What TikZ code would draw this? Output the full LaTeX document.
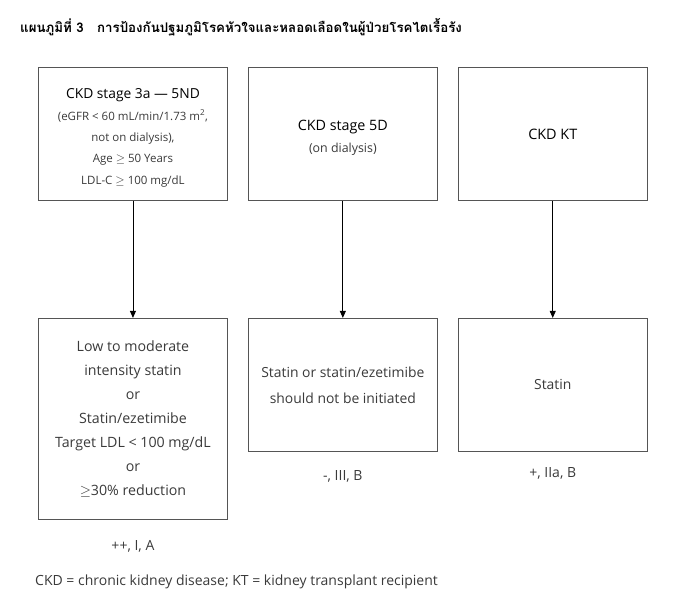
\documentclass[tikz,border=0pt]{standalone}
\usepackage{fontspec}
\setmainfont{Open Sans}
\newfontfamily\thaifont[Script=Thai]{Loma}
\usepackage{xcolor}
\usetikzlibrary{arrows.meta, positioning}
\definecolor{linegray}{HTML}{555555}
\definecolor{txtgray}{HTML}{3a3a3a}

\begin{document}
\begin{tikzpicture}[x=1pt, y=-1pt,
  box/.style={draw=linegray, line width=0.9pt, minimum width=189pt, minimum height=133pt, align=center, text=txtgray, font=\fontsize{11.5}{21.3}\selectfont},
  arr/.style={-{Triangle[length=7pt, width=6pt]}, line width=0.9pt, black},
  lbl/.style={inner sep=0pt, text=txtgray, font=\fontsize{14}{16}\selectfont}
]
\useasboundingbox (0,0) rectangle (673,603);

\node[anchor=west, inner sep=0pt, font=\thaifont\bfseries\fontsize{13.3}{16}\selectfont] (title) at (20,27) {แผนภูมิที่ 3\quad การป้องกันปฐมภูมิโรคหัวใจและหลอดเลือดในผู้ป่วยโรคไตเรื้อรัง};

\node[box, anchor=north west] (ckd3) at (38,67) {{\fontsize{13.8}{22}\selectfont\color{black}\rule{0pt}{18pt}CKD stage 3a — 5ND}\\(eGFR < 60 mL/min/1.73 m\textsuperscript{2},\\not on dialysis),\\Age $\geq$ 50 Years\\LDL-C $\geq$ 100 mg/dL};
\node[box, right=20pt of ckd3] (ckd5) {{\fontsize{14.3}{25}\selectfont\color{black}\rule{0pt}{18pt}CKD stage 5D}\\{\fontsize{12.4}{25}\selectfont(on dialysis)}};
\node[box, right=20pt of ckd5, font=\fontsize{14.4}{24}\selectfont, text=black] (kt) {CKD KT};

\node[box, below=117pt of ckd3, minimum height=201pt, font=\fontsize{14.2}{24}\selectfont] (rx3) {Low to moderate\\intensity statin\\or\\Statin/ezetimibe\\Target LDL < 100 mg/dL\\or\\$\geq$30\% reduction};
\node[box, below=117pt of ckd5, font=\fontsize{13.9}{26}\selectfont] (rx5) {Statin or statin/ezetimibe\\should not be initiated};
\node[box, below=117pt of kt, font=\fontsize{13.9}{26}\selectfont] (rxkt) {Statin};

\draw[arr] (ckd3) -- (rx3);
\draw[arr] (ckd5) -- (rx5);
\draw[arr] (kt) -- (rxkt);

\node[lbl, below=20pt of rx3] (g3) {++, I, A};
\node[lbl, below=19pt of rx5] (g5) {-, III, B};
\node[lbl, below=15pt of rxkt] (gkt) {+, IIa, B};

\node[lbl, anchor=west] (note) at (35,582) {CKD = chronic kidney disease; KT = kidney transplant recipient};
\end{tikzpicture}
\end{document}
